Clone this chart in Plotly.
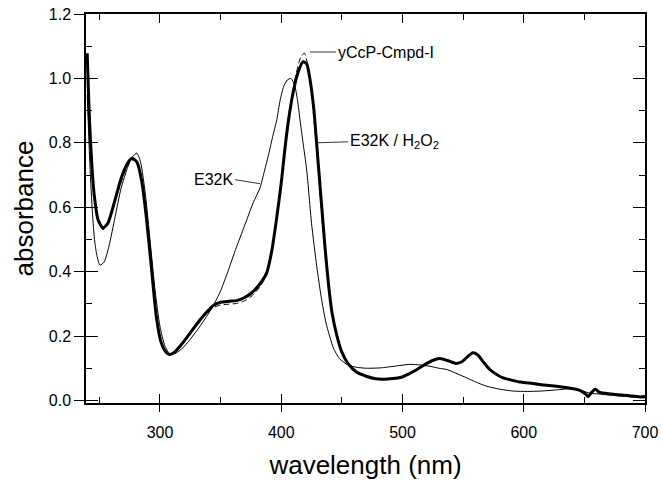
import plotly.graph_objects as go

# E32K / H2O2 (thick)
wl_h2o2 = [240, 241, 242, 244, 246, 249, 253, 257, 262, 268, 273, 277, 281, 285, 289, 293, 297, 301, 305, 308,
           312, 318, 325, 332, 338, 344, 350, 357, 363, 369, 375, 382, 388, 392, 396, 400, 403, 406, 410, 414,
           418, 421, 424, 427, 430, 433, 436, 439, 442, 446, 450, 455, 462, 470, 478, 485, 492, 498, 505, 512, 520,
           527, 531, 537, 544, 549, 554, 558, 562, 567, 572, 578, 583, 590, 597, 605, 612, 619, 627, 635, 641,
           647, 651, 653, 656, 659, 662, 667, 674, 681, 688, 696, 700]
abs_h2o2 = [1.078, 0.96, 0.86, 0.72, 0.63, 0.56, 0.535, 0.55, 0.61, 0.69, 0.735, 0.752, 0.74, 0.68, 0.56, 0.41, 0.26, 0.18, 0.15, 0.143,
            0.15, 0.175, 0.21, 0.245, 0.272, 0.295, 0.305, 0.308, 0.31, 0.318, 0.332, 0.36, 0.396, 0.46, 0.56, 0.675, 0.78, 0.87, 0.96, 1.02,
            1.052, 1.045, 0.99, 0.9, 0.76, 0.62, 0.48, 0.36, 0.27, 0.2, 0.15, 0.115, 0.088, 0.075, 0.067, 0.066, 0.068, 0.071, 0.082, 0.096, 0.115,
            0.127, 0.13, 0.124, 0.115, 0.12, 0.137, 0.148, 0.142, 0.118, 0.096, 0.08, 0.07, 0.063, 0.057, 0.054, 0.05, 0.047, 0.044, 0.04, 0.036,
            0.03, 0.02, 0.012, 0.025, 0.035, 0.026, 0.022, 0.019, 0.017, 0.014, 0.011, 0.012]

# yCcP-Cmpd-I (dashed)
wl_cmpd = [240, 242, 245, 249, 253, 258, 264, 270, 275, 279, 283, 287, 291, 295, 299, 303, 307, 311, 317, 324,
           331, 338, 344, 350, 357, 363, 369, 375, 382, 388, 392, 396, 400, 404, 408, 412, 416, 419, 422, 425,
           428, 431, 434, 437, 440, 444, 448, 453, 460, 468, 476, 484, 492, 500, 508, 516, 524, 530, 536, 543,
           549, 554, 558, 562, 567, 573, 580, 588, 596, 606, 616, 626, 636, 646, 653, 659, 665, 675, 688, 700]
abs_cmpd = [1.07, 0.86, 0.66, 0.56, 0.53, 0.555, 0.63, 0.7, 0.74, 0.748, 0.72, 0.63, 0.49, 0.33, 0.21, 0.16, 0.145, 0.145, 0.17, 0.205,
            0.238, 0.268, 0.288, 0.296, 0.299, 0.301, 0.308, 0.322, 0.35, 0.39, 0.455, 0.555, 0.67, 0.8, 0.92, 1.01, 1.065, 1.079, 1.04, 0.95,
            0.83, 0.69, 0.55, 0.42, 0.32, 0.23, 0.17, 0.125, 0.092, 0.076, 0.068, 0.065, 0.067, 0.074, 0.088, 0.106, 0.122, 0.129, 0.125, 0.115,
            0.119, 0.136, 0.148, 0.141, 0.116, 0.092, 0.076, 0.064, 0.057, 0.052, 0.048, 0.043, 0.038, 0.03, 0.014, 0.033, 0.024, 0.018, 0.013, 0.01]

# E32K (thin)
wl_e32k = [240, 242, 244, 246, 248, 250.5, 254, 258, 263, 268, 273, 277, 281, 284, 288, 292, 296, 300, 304, 308,
           312, 318, 325, 332, 338.5, 344, 350, 356, 362, 367, 372, 377, 382.5, 386, 390, 393, 396.3, 399, 402, 405,
           408, 411, 413.5, 415.5, 418, 421, 425, 429.3, 433, 437, 443, 448, 455, 462, 470, 481.5, 495, 506, 515, 522.7,
           530, 536.5, 545, 553, 561, 569.5, 580, 591.5, 603, 613.5, 625, 638, 648, 655, 662, 672, 685, 700]
abs_e32k = [0.95, 0.75, 0.6, 0.5, 0.45, 0.42, 0.43, 0.48, 0.57, 0.66, 0.72, 0.755, 0.768, 0.74, 0.64, 0.49, 0.34, 0.23, 0.17, 0.145,
            0.145, 0.16, 0.19, 0.225, 0.261, 0.295, 0.34, 0.4, 0.465, 0.515, 0.565, 0.615, 0.66, 0.71, 0.77, 0.82, 0.871, 0.93, 0.975, 0.995,
            1.0, 0.98, 0.93, 0.871, 0.8, 0.716, 0.55, 0.416, 0.32, 0.24, 0.163, 0.13, 0.11, 0.103, 0.1, 0.101, 0.107, 0.112, 0.11, 0.106,
            0.1, 0.096, 0.083, 0.07, 0.056, 0.044, 0.035, 0.029, 0.028, 0.029, 0.032, 0.036, 0.03, 0.022, 0.02, 0.016, 0.012, 0.008]

x_ticks = [300, 400, 500, 600, 700]
y_ticks = [0.0, 0.2, 0.4, 0.6, 0.8, 1.0, 1.2]
y_tick_text = ["0.0", "0.2", "0.4", "0.6", "0.8", "1.0", "1.2"]

FONT = "Liberation Sans, Arial, Helvetica, sans-serif"
XR = [239, 700]
YR = [-0.008, 1.2]

fig = go.Figure()
fig.add_trace(go.Scatter(x=wl_e32k, y=abs_e32k, mode="lines", name="E32K",
                         line=dict(color="black", width=1, shape="spline", smoothing=0.6)))
fig.add_trace(go.Scatter(x=wl_cmpd, y=abs_cmpd, mode="lines", name="yCcP-Cmpd-I",
                         line=dict(color="black", width=1, dash="6px,3px", shape="spline", smoothing=0.6)))
fig.add_trace(go.Scatter(x=wl_h2o2, y=abs_h2o2, mode="lines", name="E32K / H2O2",
                         line=dict(color="black", width=3, shape="spline", smoothing=0.6)))

fig.update_layout(
    width=662, height=491,
    margin=dict(l=86, r=17, t=14, b=88, autoexpand=False),
    paper_bgcolor="white", plot_bgcolor="white",
    showlegend=False,
    font=dict(family=FONT, color="black", size=16),
    xaxis=dict(range=XR, tickvals=x_ticks, ticks="outside", ticklen=7, tickwidth=1.2, tickcolor="black",
               showline=True, linecolor="black", linewidth=1.5, mirror=True, showgrid=False, zeroline=False,
               automargin=False, ticklabeloverflow="allow", ticklabelstandoff=7,
               tickfont=dict(size=16), title=dict(text="wavelength (nm)", font=dict(size=26), standoff=16)),
    xaxis2=dict(range=XR, overlaying="x", anchor="y", tickvals=x_ticks, ticks="inside", ticklen=9, tickwidth=1.2,
                tickcolor="black", showticklabels=False, mirror="ticks", showline=False, showgrid=False, zeroline=False,
                automargin=False,
                minor=dict(tickvals=[250, 350, 450, 550, 650], ticks="inside", ticklen=6, tickwidth=1.2, tickcolor="black")),
    yaxis=dict(range=YR, tickvals=y_ticks, ticktext=y_tick_text, ticks="outside", ticklen=10, tickwidth=1.2,
               tickcolor="black", showline=True, linecolor="black", linewidth=1.5, mirror=True, showgrid=False,
               zeroline=False, automargin=False, ticklabeloverflow="allow",
               tickfont=dict(size=16), title=dict(text="absorbance", font=dict(size=26), standoff=8)),
    yaxis2=dict(range=YR, overlaying="y", anchor="x", tickvals=y_ticks, ticks="inside", ticklen=12, tickwidth=1.2,
                tickcolor="black", showticklabels=False, mirror="ticks", showline=False, showgrid=False, zeroline=False,
                automargin=False,
                minor=dict(tickvals=[0.1, 0.3, 0.5, 0.7, 0.9, 1.1], ticks="inside", ticklen=6, tickwidth=1.2, tickcolor="black")),
)
# invisible trace to activate the overlay axes
fig.add_trace(go.Scatter(x=[XR[0]], y=[YR[0]], xaxis="x2", yaxis="y2", mode="markers",
                         marker=dict(opacity=0), hoverinfo="skip", showlegend=False))

fig.add_annotation(x=423.7, y=1.082, ax=26, ay=0, text="yCcP-Cmpd-I", showarrow=True, arrowhead=0,
                   arrowwidth=0.8, arrowcolor="black", xanchor="left", font=dict(size=16))
fig.add_annotation(x=429.5, y=0.80, ax=31, ay=-1, text="E32K / H<sub>2</sub>O<sub>2</sub>", showarrow=True,
                   arrowhead=0, arrowwidth=0.8, arrowcolor="black", xanchor="left", font=dict(size=16))
fig.add_annotation(x=382.5, y=0.673, ax=-25, ay=-4, text="E32K", showarrow=True, arrowhead=0,
                   arrowwidth=0.8, arrowcolor="black", xanchor="right", font=dict(size=16))

# remove the default 8px page margin so the 662x491 figure fills the window exactly
fig.write_html("out.html", config={"displayModeBar": False},
               post_script="document.body.style.margin='0';document.body.style.overflow='hidden';")
